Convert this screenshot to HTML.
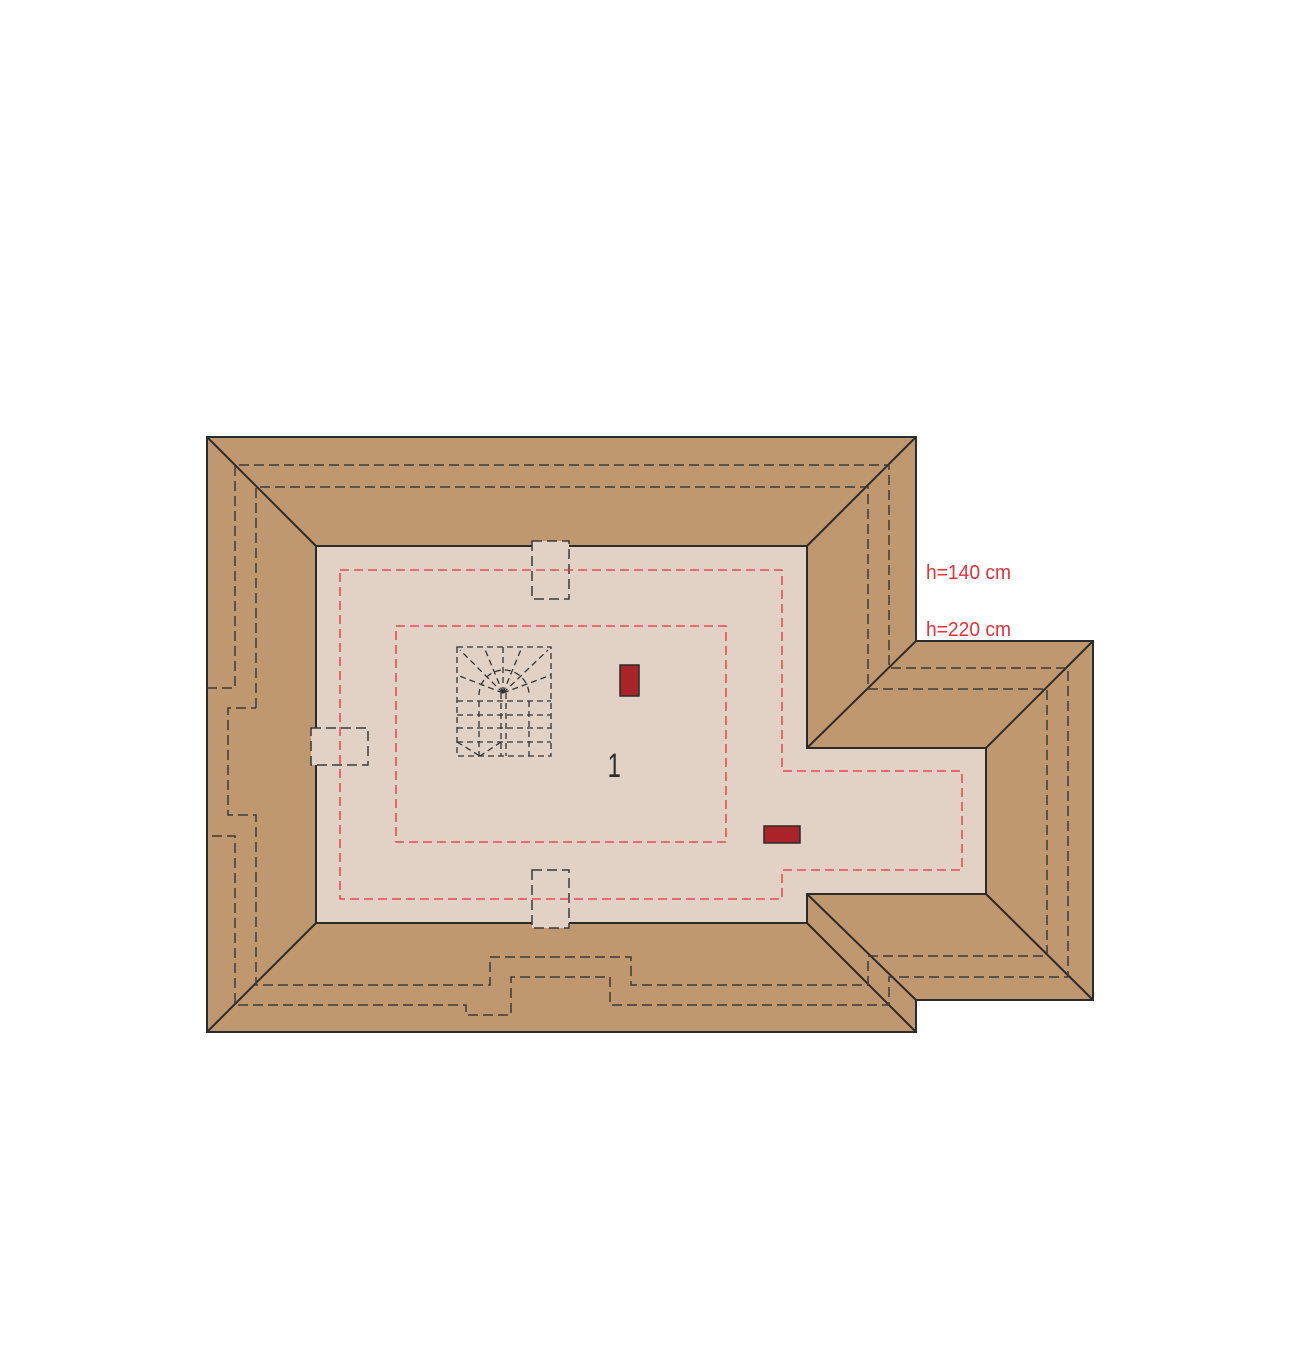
<!DOCTYPE html>
<html><head><meta charset="utf-8"><style>
html,body{margin:0;padding:0;background:#fff}
svg{display:block}
</style></head><body>
<svg width="1300" height="1359" viewBox="0 0 1300 1359" xmlns="http://www.w3.org/2000/svg">
<rect width="1300" height="1359" fill="#fff"/>
<polygon points="207,437 916,437 916,641 1093,641 1093,1000 916,1000 916,1032 207,1032" fill="#c09870" stroke="#2b2b2b" stroke-width="2"/>
<polygon points="316,546 807,546 807,748 986,748 986,894 807,894 807,923 316,923" fill="#e2d2c6" stroke="#2b2b2b" stroke-width="2"/>
<g stroke="#2b2b2b" stroke-width="2">
<line x1="207" y1="437" x2="316" y2="546"/>
<line x1="916" y1="437" x2="807" y2="546"/>
<line x1="916" y1="641" x2="807" y2="748"/>
<line x1="1093" y1="641" x2="986" y2="748"/>
<line x1="1093" y1="1000" x2="986" y2="894"/>
<line x1="916" y1="1000" x2="807" y2="894"/>
<line x1="916" y1="1032" x2="807" y2="923"/>
<line x1="207" y1="1032" x2="316" y2="923"/>
</g>
<g fill="none" stroke="#3a3a3a" stroke-width="1.5" stroke-dasharray="10,5">
<polyline points="207,688 235,688 235,465 889,465 889,668 1068,668 1068,977 889,977 889,1005 610,1005 610,977 511,977 511,1015 466,1015 466,1005 235,1005 235,836 207,836"/>
<polyline points="256,708 256,487 868,487 868,689 1047,689 1047,956 868,956 868,985 631,985 631,957 490,957 490,985 256,985 256,815 228,815 228,708 256,708"/>
</g>
<g fill="#e2d2c6" stroke="#3a3a3a" stroke-width="1.5" stroke-dasharray="10,5">
<rect x="532" y="541" width="37" height="58"/>
<rect x="532" y="870" width="37" height="58"/>
<rect x="311" y="728" width="57" height="37"/>
</g>
<g fill="none" stroke="#e8303a" stroke-width="1.3" stroke-dasharray="9,5">
<polygon points="340,570 782,570 782,771 962,771 962,870 782,870 782,899 340,899"/>
<rect x="396" y="626" width="330" height="216"/>
</g>
<g fill="none" stroke="#333" stroke-width="1.3" stroke-dasharray="6,4">
<rect x="457" y="647" width="94" height="109"/>
<line x1="501" y1="693" x2="501" y2="756"/>
<line x1="506" y1="693" x2="506" y2="756"/>
<line x1="457" y1="701" x2="551" y2="701"/>
<line x1="457" y1="715" x2="551" y2="715"/>
<line x1="457" y1="728" x2="551" y2="728"/>
<line x1="457" y1="742" x2="551" y2="742"/>
<line x1="479" y1="701" x2="479" y2="756"/>
<line x1="529" y1="701" x2="529" y2="756"/>
<path d="M479,695 A25,25 0 0 1 529,695"/>
<line x1="503" y1="693" x2="460" y2="650"/>
<line x1="503" y1="693" x2="484" y2="647"/>
<line x1="503" y1="693" x2="503" y2="647"/>
<line x1="503" y1="693" x2="522" y2="647"/>
<line x1="503" y1="693" x2="548" y2="650"/>
<line x1="503" y1="693" x2="551" y2="675"/>
<line x1="503" y1="693" x2="457" y2="675"/>
<line x1="457" y1="742" x2="480" y2="756"/>
<line x1="501" y1="742" x2="480" y2="756"/>
</g>
<rect x="620" y="665" width="19" height="31" fill="#a82428" stroke="#2b2b2b" stroke-width="1.5"/>
<rect x="764" y="826" width="36" height="17" fill="#a82428" stroke="#2b2b2b" stroke-width="1.5"/>
<text x="608" y="777" font-family="Liberation Sans, sans-serif" font-size="34" fill="#2b2b2b" transform="scale(0.7,1) translate(260,0)">1</text>
<g font-family="Liberation Sans Narrow, Liberation Sans, sans-serif" font-size="20" fill="#e8303a">
<text x="926" y="579" textLength="85" lengthAdjust="spacingAndGlyphs">h=140 cm</text>
<text x="926" y="636" textLength="85" lengthAdjust="spacingAndGlyphs">h=220 cm</text>
</g>
</svg>
</body></html>
